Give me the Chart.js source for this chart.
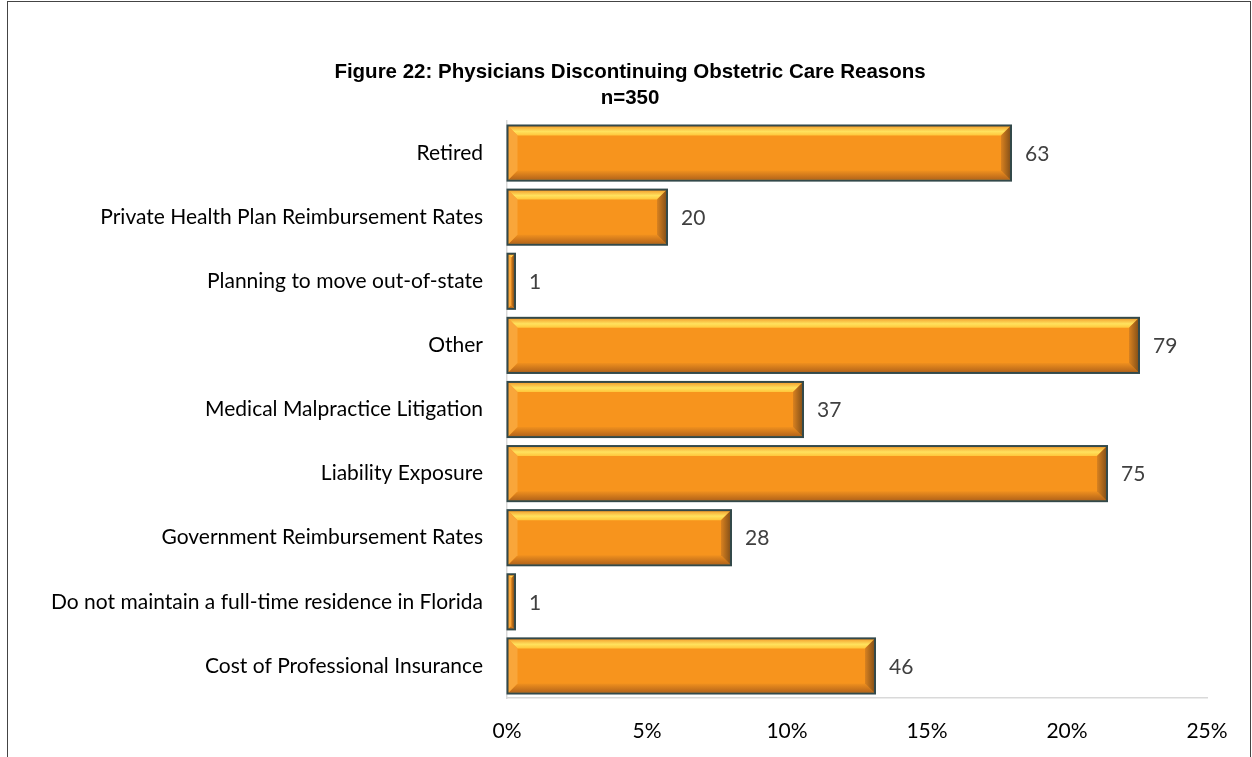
<!DOCTYPE html>
<html>
<head>
<meta charset="utf-8">
<script src="https://cdn.jsdelivr.net/npm/chart.js@4/dist/chart.umd.min.js"></script>
<style>
  html, body { margin: 0; padding: 0; background: #fff; overflow: hidden; }
  #frame { position: absolute; left: 7px; top: 1px; width: 1242px; height: 800px; border: 1px solid #444; }
  #wrap { position: absolute; left: 0; top: 0; width: 1242px; height: 755px; }
</style>
</head>
<body>
<div id="frame"><div id="wrap"><canvas id="reasonsChart"></canvas></div></div>
<script>
// --- данные ---
const titleLines = ['Figure 22: Physicians Discontinuing Obstetric Care Reasons', 'n=350'];
const categories = [
  'Retired',
  'Private Health Plan Reimbursement Rates',
  'Planning to move out-of-state',
  'Other',
  'Medical Malpractice Litigation',
  'Liability Exposure',
  'Government Reimbursement Rates',
  'Do not maintain a full-time residence in Florida',
  'Cost of Professional Insurance'
];
const counts = [63, 20, 1, 79, 37, 75, 28, 1, 46];
const totalN = 350;
const percents = counts.map(c => c / totalN * 100);
const xTicks = [0, 5, 10, 15, 20, 25];

const labelFont = 'Lato, "Open Sans", sans-serif';

// заголовок по центру всей рамки
const titlePlugin = {
  id: 'centerTitle',
  afterDraw(chart) {
    const ctx = chart.ctx;
    ctx.save();
    ctx.fillStyle = '#000';
    ctx.font = 'bold 20.5px "Liberation Sans", Arial, sans-serif';
    ctx.textAlign = 'center';
    ctx.textBaseline = 'middle';
    ctx.fillText(titleLines[0], 622, 70);
    ctx.fillText(titleLines[1], 622, 96);
    ctx.restore();
  }
};

// объёмный вид столбцов поверх элементов библиотеки
const bevelPlugin = {
  id: 'bevel',
  afterDatasetsDraw(chart) {
    const ctx = chart.ctx;
    const meta = chart.getDatasetMeta(0);
    meta.data.forEach((bar, i) => {
      const p = bar.getProps(['x', 'y', 'base', 'height'], true);
      const l = p.base + 1, r = p.x - 1;
      const t = p.y - p.height / 2 + 1, b = p.y + p.height / 2 - 1;
      const w = r - l;
      const bv = Math.min(9, w / 2);
      ctx.save();
      // верх
      let g = ctx.createLinearGradient(0, t, 0, t + bv);
      g.addColorStop(0, '#F4A431');
      g.addColorStop(0.55, '#FFE25E');
      g.addColorStop(1, '#FFC63A');
      ctx.fillStyle = g;
      ctx.beginPath();
      ctx.moveTo(l, t); ctx.lineTo(r, t); ctx.lineTo(r - bv, t + bv); ctx.lineTo(l + bv, t + bv); ctx.closePath();
      ctx.fill();
      // низ
      g = ctx.createLinearGradient(0, b - bv, 0, b);
      g.addColorStop(0, '#F0901E');
      g.addColorStop(1, '#B5651A');
      ctx.fillStyle = g;
      ctx.beginPath();
      ctx.moveTo(l, b); ctx.lineTo(r, b); ctx.lineTo(r - bv, b - bv); ctx.lineTo(l + bv, b - bv); ctx.closePath();
      ctx.fill();
      // левый край
      ctx.fillStyle = '#F9A63A';
      ctx.beginPath();
      ctx.moveTo(l, t); ctx.lineTo(l + bv, t + bv); ctx.lineTo(l + bv, b - bv); ctx.lineTo(l, b); ctx.closePath();
      ctx.fill();
      // правый край
      g = ctx.createLinearGradient(r - bv, 0, r, 0);
      g.addColorStop(0, '#D98220');
      g.addColorStop(1, '#8A5318');
      ctx.fillStyle = g;
      ctx.beginPath();
      ctx.moveTo(r, t); ctx.lineTo(r - bv, t + bv); ctx.lineTo(r - bv, b - bv); ctx.lineTo(r, b); ctx.closePath();
      ctx.fill();
      // контур
      ctx.strokeStyle = '#33494A';
      ctx.lineWidth = 2;
      ctx.strokeRect(p.base, p.y - p.height / 2, p.x - p.base, p.height);
      // подпись количества
      ctx.fillStyle = '#404040';
      ctx.font = '21px ' + labelFont;
      ctx.textAlign = 'left';
      ctx.textBaseline = 'middle';
      ctx.fillText(String(counts[i]), p.x + 14, p.y + 1);
      ctx.restore();
    });
  }
};

const ctx = document.getElementById('reasonsChart').getContext('2d');
new Chart(ctx, {
  type: 'bar',
  data: {
    labels: categories,
    datasets: [{
      data: percents,
      backgroundColor: '#F7941D',
      borderWidth: 0,
      barPercentage: 0.86,
      categoryPercentage: 1
    }]
  },
  options: {
    indexAxis: 'y',
    responsive: true,
    maintainAspectRatio: false,
    animation: false,
    layout: { padding: { top: 119, right: 43, bottom: 0, left: 0 } },
    scales: {
      x: {
        min: 0, max: 25,
        afterBuildTicks: (scale) => { scale.ticks = xTicks.map(v => ({ value: v })); },
        afterFit: (scale) => { scale.height = 59; },
        ticks: {
          color: '#000',
          font: { family: labelFont, size: 21 },
          padding: 21,
          maxRotation: 0,
          callback: v => v + '%'
        },
        grid: { display: true, color: 'transparent', drawTicks: false },
        border: { display: true, color: '#D9D9D9', width: 1.5 }
      },
      y: {
        afterFit: (scale) => { scale.width = 499; },
        ticks: {
          color: '#000',
          font: { family: labelFont, size: 21 },
          padding: 24
        },
        grid: { display: true, color: 'transparent', drawTicks: false },
        border: { display: true, color: '#D9D9D9', width: 1.5 }
      }
    },
    plugins: {
      legend: { display: false },
      tooltip: { enabled: false },
      title: { display: false }
    }
  },
  plugins: [bevelPlugin, titlePlugin]
});
</script>
</body>
</html>
